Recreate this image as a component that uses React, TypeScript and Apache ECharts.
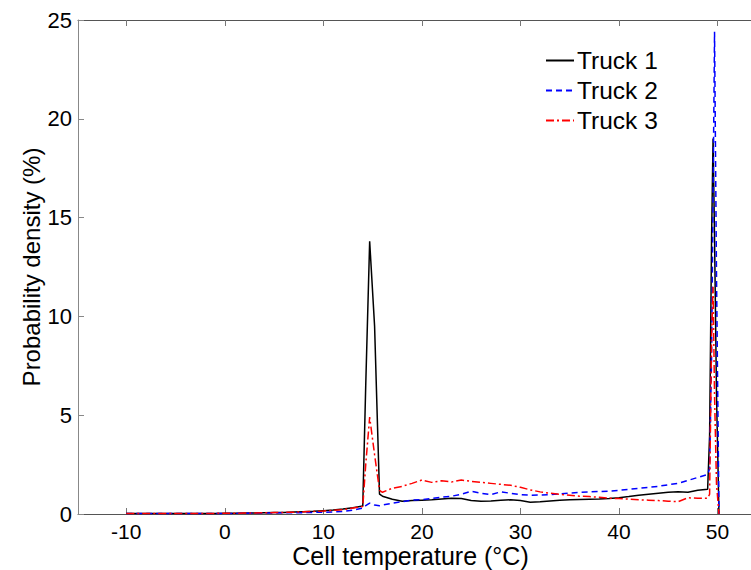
import React, { useEffect, useRef } from "react";
import * as echarts from "echarts";

const temps = [
  -10, -9, -8, -7, -6, -5, -4, -3, -2, -1, 0, 1, 2, 3, 4, 5, 6, 7, 8, 9, 10, 11, 12, 13,
  14.0, 14.3, 14.7, 15.2, 15.7,
  16, 17, 18, 19, 20, 21, 22, 23, 24, 25, 26, 27, 28, 29, 30, 31, 32, 33, 34, 35, 36, 37, 38, 39, 40,
  41, 42, 43, 44, 45, 46, 47, 48,
  49.0, 49.2, 49.4, 49.55, 49.7, 49.9, 50.15,
];

const truck1 = [
  0.02, 0.02, 0.02, 0.02, 0.02, 0.02, 0.03, 0.03, 0.03, 0.03, 0.04, 0.04, 0.05, 0.05, 0.06, 0.07, 0.08, 0.1, 0.12, 0.14, 0.17, 0.2, 0.25, 0.32,
  0.4, 6.5, 13.8, 9.5, 1.0,
  0.9, 0.75, 0.65, 0.68, 0.7, 0.72, 0.76, 0.8, 0.78, 0.68, 0.64, 0.66, 0.7, 0.72, 0.68, 0.6, 0.62, 0.66, 0.7, 0.72, 0.74, 0.75, 0.76, 0.78, 0.82,
  0.88, 0.95, 1.0, 1.05, 1.1, 1.12, 1.1, 1.2,
  1.25, 4.0, 14, 19.0, 14, 6, 0,
];

const truck2 = [
  0.02, 0.02, 0.02, 0.02, 0.02, 0.02, 0.02, 0.02, 0.03, 0.03, 0.03, 0.03, 0.04, 0.04, 0.05, 0.05, 0.06, 0.06, 0.07, 0.08, 0.09, 0.1, 0.13, 0.2,
  0.3, 0.42, 0.55, 0.45, 0.42,
  0.45, 0.55, 0.62, 0.7, 0.72, 0.78, 0.85, 0.9, 1.0, 1.15, 1.05, 0.98, 1.12, 1.05, 0.98, 0.95, 0.96, 0.98, 1.02, 1.06, 1.1, 1.12, 1.14, 1.16, 1.2,
  1.25, 1.3, 1.35, 1.4, 1.48, 1.55, 1.7, 1.85,
  2.0, 2.3, 8, 16, 24.4, 12, 0,
];

const truck3 = [
  0.02, 0.02, 0.02, 0.02, 0.02, 0.02, 0.03, 0.03, 0.03, 0.03, 0.04, 0.04, 0.05, 0.05, 0.06, 0.07, 0.08, 0.09, 0.11, 0.13, 0.15, 0.18, 0.22, 0.3,
  0.38, 2.5, 4.9, 3.0, 1.2,
  1.1, 1.3, 1.4, 1.55, 1.72, 1.6, 1.68, 1.62, 1.72, 1.65, 1.6, 1.55, 1.5, 1.45, 1.35, 1.22, 1.12, 1.05, 1.0, 0.95, 0.9, 0.88, 0.85, 0.8, 0.78,
  0.75, 0.72, 0.7, 0.68, 0.65, 0.62, 0.82, 0.8,
  0.8, 1.0, 9, 11.5, 6, 1.5, 0,
];

const xTicks = [-10, 0, 10, 20, 30, 40, 50];
const seriesNames = ["Truck 1", "Truck 2", "Truck 3"];

const FONT = "'Liberation Sans', Arial, Helvetica, sans-serif";

export default function App() {
  const ref = useRef<HTMLDivElement>(null);

  useEffect(() => {
    if (!ref.current) return;
    document.body.style.margin = "0";
    document.body.style.overflow = "hidden";
    const chart = echarts.init(ref.current, undefined, { renderer: "svg" });
    const pairs = (ys: number[]) => temps.map((t, i) => [t, ys[i]]);
    const axisLineColor = "#555";
    chart.setOption({
      animation: false,
      backgroundColor: "#ffffff",
      textStyle: { fontFamily: FONT },
      grid: {
        left: 78,
        top: 20,
        width: 673,
        height: 494,
        containLabel: false,
        outerBoundsMode: "none",
      },
      legend: {
        orient: "vertical",
        left: 545,
        top: 48,
        padding: 0,
        itemWidth: 28,
        itemHeight: 26,
        itemGap: 5,
        itemStyle: { opacity: 0 },
        textStyle: { fontSize: 24.5, color: "#000", fontFamily: FONT, padding: [0, 0, 0, -2] },
        data: seriesNames,
      },
      xAxis: [
        {
          type: "value",
          min: -14.9,
          max: 53.4,
          position: "bottom",
          splitLine: { show: false },
          axisLine: { show: true, onZero: false, lineStyle: { color: axisLineColor, width: 1 } },
          axisTick: { show: true, inside: true, length: 6, customValues: xTicks, lineStyle: { color: "#777" } },
          axisLabel: { customValues: xTicks, fontSize: 21, lineHeight: 18, color: "#000", margin: 8, fontFamily: FONT },
          name: "Cell temperature (°C)",
          nameLocation: "middle",
          nameGap: 30,
          nameMoveOverlap: false,
          nameTextStyle: { fontSize: 25, lineHeight: 24, color: "#000", fontFamily: FONT, padding: [0, 8, 0, 0] },
        },
        {
          type: "value",
          min: -14.9,
          max: 53.4,
          position: "top",
          splitLine: { show: false },
          axisLine: { show: true, onZero: false, lineStyle: { color: axisLineColor, width: 1 } },
          axisTick: { show: true, inside: true, length: 6, customValues: xTicks, lineStyle: { color: "#777" } },
          axisLabel: { show: false },
        },
      ],
      yAxis: {
        type: "value",
        min: 0,
        max: 25,
        interval: 5,
        splitLine: { show: false },
        axisLine: { show: true, onZero: false, lineStyle: { color: "#888", width: 1 } },
        axisTick: { show: true, inside: true, length: 6, lineStyle: { color: "#888" } },
        axisLabel: { fontSize: 22, color: "#000", margin: 6, fontFamily: FONT },
        name: "Probability density (%)",
        nameLocation: "middle",
        nameGap: 35,
        nameMoveOverlap: false,
        nameRotate: 90,
        nameTextStyle: { fontSize: 24, color: "#000", fontFamily: FONT },
      },
      series: [
        {
          name: seriesNames[0],
          type: "line",
          data: pairs(truck1),
          showSymbol: false,
          symbol: "none",
          lineStyle: { color: "#000000", width: 1.5, type: "solid" },
          itemStyle: { color: "#000000" },
        },
        {
          name: seriesNames[1],
          type: "line",
          data: pairs(truck2),
          showSymbol: false,
          symbol: "none",
          lineStyle: { color: "#0000ff", width: 1.5, type: [6, 4] },
          itemStyle: { color: "#0000ff" },
        },
        {
          name: seriesNames[2],
          type: "line",
          data: pairs(truck3),
          showSymbol: false,
          symbol: "none",
          lineStyle: { color: "#ff0000", width: 1.5, type: [8, 3, 2, 3] },
          itemStyle: { color: "#ff0000" },
        },
      ],
    });
    return () => chart.dispose();
  }, []);

  return (
    <div
      ref={ref}
      style={{ position: "fixed", left: 0, top: 0, width: 751, height: 570, overflow: "hidden", background: "#fff" }}
    />
  );
}
